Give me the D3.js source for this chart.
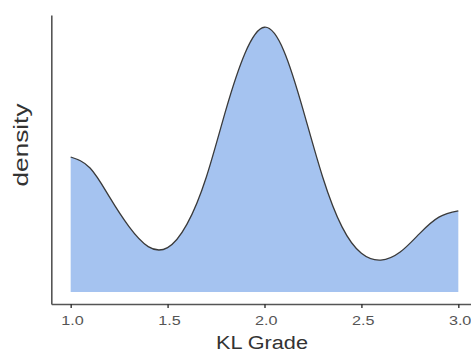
<!DOCTYPE html>
<html><head><meta charset="utf-8">
<script src="https://cdn.jsdelivr.net/npm/d3@7"></script>
<style>body{margin:0;background:#fff}svg{display:block}</style>
</head><body>
<svg id="c" width="471" height="353"></svg>
<script>
const gradeX   = [1.0, 1.1, 1.2, 1.3, 1.4, 1.5, 1.6, 1.7, 1.8, 1.9, 2.0, 2.1, 2.2, 2.3, 2.4, 2.5, 2.6, 2.7, 2.8, 2.9, 3.0];
const densityY = [0.541,0.497,0.381,0.263,0.182,0.178,0.272,0.461,0.728,0.958,1.061,0.966,0.728,0.461,0.261,0.155,0.128,0.160,0.234,0.300,0.325];
const xTicks = [1.0, 1.5, 2.0, 2.5, 3.0];
const xLabel = "KL Grade", yLabel = "density";

const svg = d3.select("#c");
const x = d3.scaleLinear().domain([0.9, 3.1]).range([51.3, 477.7]);
const y = d3.scaleLinear().domain([-0.048, 1.11]).range([304, 15]);
const pts = gradeX.map((v, i) => [v, densityY[i]]);
const curve = d3.curveNatural;
const font = "Liberation Sans, Arial, Helvetica, sans-serif";

svg.append("path").datum(pts)
  .attr("d", d3.area().x(d => x(d[0])).y0(y(0)).y1(d => y(d[1])).curve(curve))
  .attr("fill", "#a5c3f0");
svg.append("path").datum(pts)
  .attr("d", d3.line().x(d => x(d[0])).y(d => y(d[1])).curve(curve))
  .attr("fill", "none").attr("stroke", "#3a3a3a").attr("stroke-width", 1.3);

const gx = svg.append("g").attr("transform", "translate(0,304)")
  .call(d3.axisBottom(x).tickValues(xTicks).tickFormat(d3.format(".1f")).tickSize(4).tickSizeOuter(0));
gx.select(".domain").attr("stroke", "#555").attr("stroke-width", 1.6);
gx.selectAll(".tick line").attr("stroke", "#333").attr("stroke-width", 1.4);
gx.selectAll(".tick text").attr("fill", "#555").attr("font-family", font).attr("font-size", 12.5)
  .attr("y", 21).attr("dy", null).attr("dx", 1.3)
  .attr("textLength", 22.5).attr("lengthAdjust", "spacingAndGlyphs");

const gy = svg.append("g").attr("transform", "translate(51.3,0)")
  .call(d3.axisLeft(y).tickValues([]).tickSizeOuter(0));
gy.select(".domain").attr("stroke", "#555").attr("stroke-width", 1.6);

svg.append("text").attr("x", 262).attr("y", 349).attr("text-anchor", "middle")
  .attr("font-family", font).attr("font-size", 18).attr("fill", "#333")
  .attr("textLength", 92).attr("lengthAdjust", "spacingAndGlyphs").text(xLabel);
svg.append("text").attr("transform", "translate(27.5,145) rotate(-90)").attr("text-anchor", "middle")
  .attr("font-family", font).attr("font-size", 19.5).attr("fill", "#333")
  .attr("textLength", 83).attr("lengthAdjust", "spacingAndGlyphs").text(yLabel);
</script>
</body></html>
